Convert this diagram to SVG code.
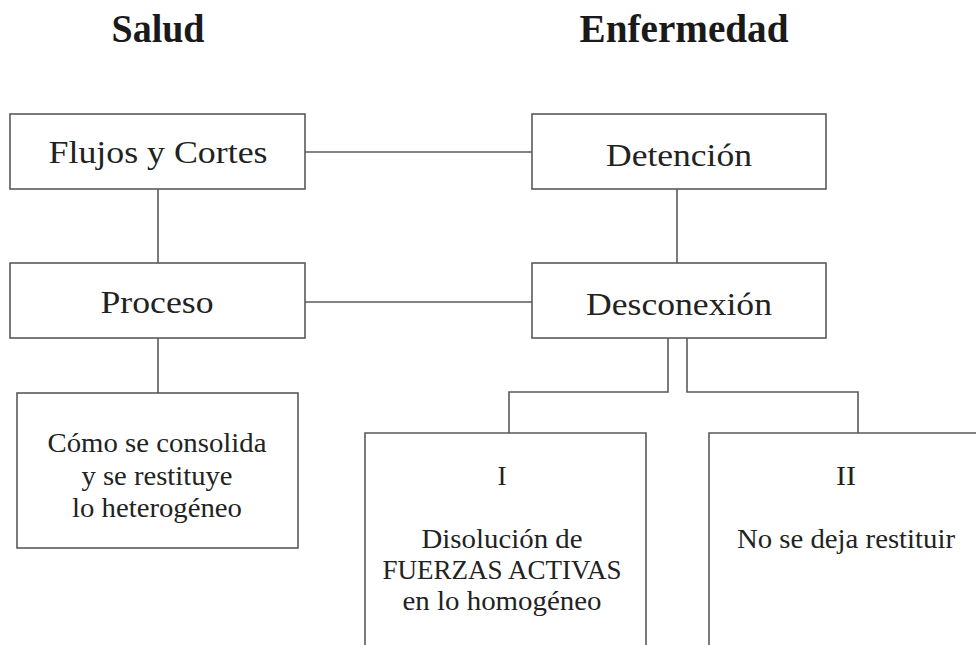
<svg xmlns="http://www.w3.org/2000/svg" width="976" height="645" viewBox="0 0 976 645">
<style>
.box{fill:#fff;stroke:#5a5a5a;stroke-width:1.6}
.ln{fill:none;stroke:#5a5a5a;stroke-width:1.6}
.t{font-family:"Liberation Serif","Times New Roman",serif;fill:#222;text-anchor:middle}
.big{font-size:31px}
.mid{font-size:27px}
.title{font-family:"Liberation Serif","Times New Roman",serif;font-weight:bold;font-size:39px;fill:#1a1a1a;text-anchor:middle}
</style>
<rect width="976" height="645" fill="#fff"/>
<g id="titles">
<text class="title" x="158" y="42" textLength="93" lengthAdjust="spacingAndGlyphs">Salud</text>
<text class="title" x="684" y="42" textLength="209" lengthAdjust="spacingAndGlyphs">Enfermedad</text>
</g>
<g id="connectors">
<line class="ln" x1="305" y1="152" x2="532" y2="152"/>
<line class="ln" x1="305" y1="302" x2="532" y2="302"/>
<line class="ln" x1="158" y1="189" x2="158" y2="263"/>
<line class="ln" x1="677" y1="189" x2="677" y2="263"/>
<line class="ln" x1="158" y1="338" x2="158" y2="393"/>
<polyline class="ln" points="668,338 668,392 509,392 509,433"/>
<polyline class="ln" points="687,338 687,392 858,392 858,433"/>
</g>
<g id="flujos">
<rect class="box" x="10" y="114" width="295" height="75"/>
<text class="t big" x="158" y="163" textLength="219" lengthAdjust="spacingAndGlyphs">Flujos y Cortes</text>
</g>
<g id="detencion">
<rect class="box" x="532" y="114" width="294" height="75"/>
<text class="t big" x="679" y="166" textLength="146" lengthAdjust="spacingAndGlyphs">Detención</text>
</g>
<g id="proceso">
<rect class="box" x="10" y="263" width="295" height="75"/>
<text class="t big" x="157" y="313" textLength="113" lengthAdjust="spacingAndGlyphs">Proceso</text>
</g>
<g id="desconexion">
<rect class="box" x="532" y="263" width="294" height="75"/>
<text class="t big" x="679" y="315" textLength="186" lengthAdjust="spacingAndGlyphs">Desconexión</text>
</g>
<g id="como">
<rect class="box" x="17" y="393" width="281" height="155"/>
<text class="t mid" x="157" y="452" textLength="219" lengthAdjust="spacingAndGlyphs">Cómo se consolida</text>
<text class="t mid" x="157" y="485" textLength="151" lengthAdjust="spacingAndGlyphs">y se restituye</text>
<text class="t mid" x="157" y="517" textLength="170" lengthAdjust="spacingAndGlyphs">lo heterogéneo</text>
</g>
<g id="tipo1">
<path class="ln" d="M365,650 V433 H646 V650"/>
<text class="t mid" x="502" y="485">I</text>
<text class="t mid" x="502" y="548" textLength="161" lengthAdjust="spacingAndGlyphs">Disolución de</text>
<text class="t mid" x="502" y="579" textLength="239" lengthAdjust="spacingAndGlyphs">FUERZAS ACTIVAS</text>
<text class="t mid" x="502" y="610" textLength="199" lengthAdjust="spacingAndGlyphs">en lo homogéneo</text>
</g>
<g id="tipo2">
<path class="ln" d="M709,650 V433 H980"/>
<text class="t mid" x="846" y="485" textLength="20" lengthAdjust="spacingAndGlyphs">II</text>
<text class="t mid" x="846" y="548" textLength="218" lengthAdjust="spacingAndGlyphs">No se deja restituir</text>
</g>
</svg>
